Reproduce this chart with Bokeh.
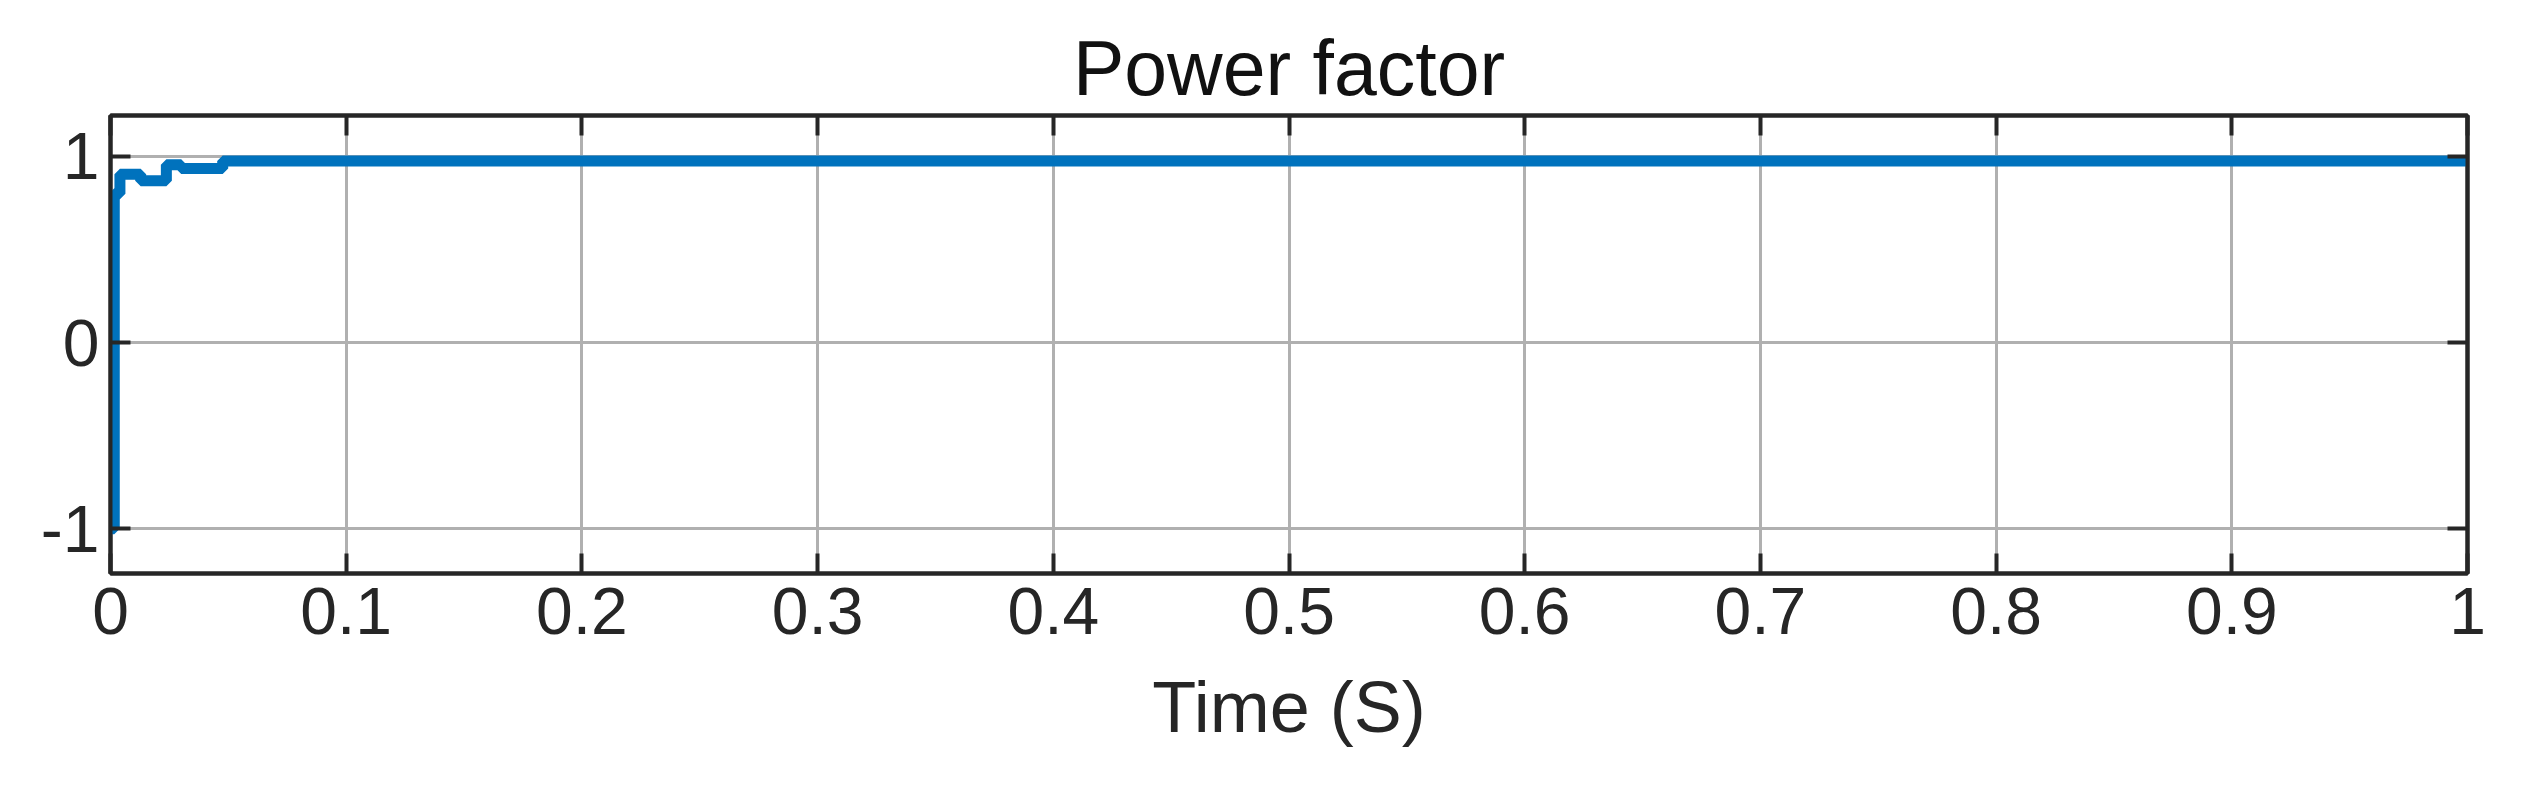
from bokeh.plotting import figure
from bokeh.models import LinearAxis, FixedTicker, Range1d
from bokeh.embed import file_html
from bokeh.resources import INLINE

# Data
time_s = [0.0, 0.0016, 0.004, 0.0128, 0.0237, 0.030, 0.0476, 1.0]
power_factor = [-1.0, 0.80, 0.905, 0.87, 0.955, 0.935, 0.975, 0.975]

x_ticks = [0, 0.1, 0.2, 0.3, 0.4, 0.5, 0.6, 0.7, 0.8, 0.9, 1]
x_tick_labels = ["0", "0.1", "0.2", "0.3", "0.4", "0.5", "0.6", "0.7", "0.8", "0.9", "1"]
y_ticks = [-1, 0, 1]
y_tick_labels = ["-1", "0", "1"]

FONT = "Liberation Sans"
DARK = "#262626"

p = figure(frame_width=2357, frame_height=458, output_backend="svg", toolbar_location=None,
           x_range=Range1d(0, 1), y_range=Range1d(-1.24, 1.22),
           title="Power factor")
p.min_border_left = 110
p.min_border_right = 45
p.min_border_top = 115
p.min_border_bottom = 200

p.title.text_font = FONT
p.title.text_font_size = "77px"
p.title.text_font_style = "normal"
p.title.text_color = "#111111"
p.title.align = "center"

p.outline_line_color = DARK
p.outline_line_width = 4
p.background_fill_color = "white"
p.border_fill_color = "white"

p.step(time_s, power_factor, mode="after", line_width=11, color="#0072BD")

def style_axis(ax, show_labels=True):
    ax.axis_line_color = DARK
    ax.axis_line_width = 4
    ax.major_tick_line_color = DARK
    ax.major_tick_line_width = 4
    ax.major_tick_in = 20
    ax.major_tick_out = 0
    ax.minor_tick_line_color = None
    ax.major_label_text_font = FONT
    ax.major_label_text_font_size = "66px" if show_labels else "0px"
    ax.major_label_text_color = DARK
    if not show_labels:
        ax.major_label_text_alpha = 0
        ax.major_label_standoff = 0

xa = p.xaxis[0]
xa.ticker = FixedTicker(ticks=x_ticks)
xa.major_label_overrides = {t: l for t, l in zip(x_ticks, x_tick_labels)}
style_axis(xa)
xa.major_label_standoff = 14
xa.axis_label = "Time (S)"
xa.axis_label_text_font = FONT
xa.axis_label_text_font_size = "72px"
xa.axis_label_text_font_style = "normal"
xa.axis_label_text_color = DARK
xa.axis_label_standoff = 30

ya = p.yaxis[0]
ya.ticker = FixedTicker(ticks=y_ticks)
ya.major_label_overrides = {t: l for t, l in zip(y_ticks, y_tick_labels)}
style_axis(ya)
ya.major_label_standoff = 11

top_ax = LinearAxis(ticker=FixedTicker(ticks=x_ticks))
style_axis(top_ax, show_labels=False)
p.add_layout(top_ax, "above")
right_ax = LinearAxis(ticker=FixedTicker(ticks=y_ticks))
style_axis(right_ax, show_labels=False)
p.add_layout(right_ax, "right")

p.xgrid.ticker = FixedTicker(ticks=x_ticks)
p.ygrid.ticker = FixedTicker(ticks=y_ticks)
for g in (p.xgrid, p.ygrid):
    g.grid_line_color = "#b0b0b0"
    g.grid_line_width = 3

open("out.html", "w").write(file_html(p, INLINE))
